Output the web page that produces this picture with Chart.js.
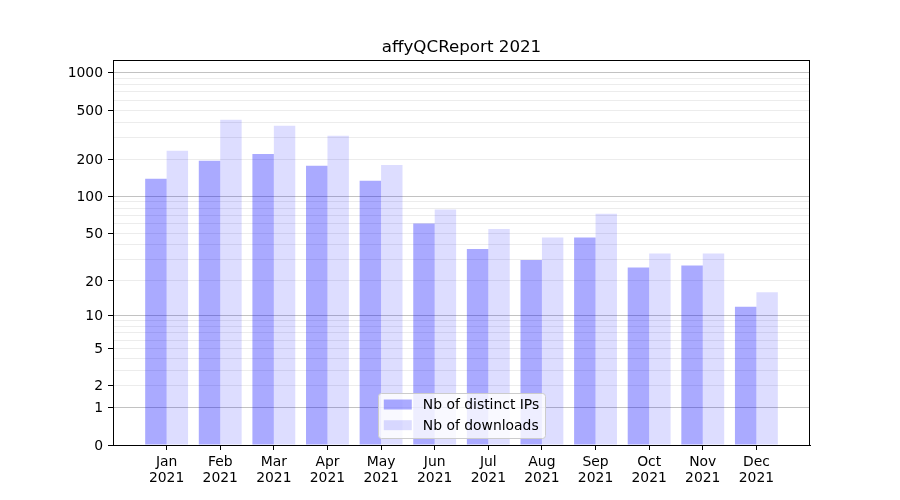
<!DOCTYPE html>
<html>
<head>
<meta charset="utf-8">
<script src="https://cdn.jsdelivr.net/npm/chart.js@4.4.0/dist/chart.umd.min.js"></script>
<style>
  html, body { margin: 0; padding: 0; background: #fff; }
  #wrap { width: 900px; height: 500px; }
</style>
</head>
<body>
<div id="wrap"><canvas id="downloadsChart" width="900" height="500"></canvas></div>
<script>
// chart data
const chartTitle = 'affyQCReport 2021'
const months = ['Jan', 'Feb', 'Mar', 'Apr', 'May', 'Jun', 'Jul', 'Aug', 'Sep', 'Oct', 'Nov', 'Dec']
const year = '2021'
const distinctIPs = [139, 194, 221, 177, 134, 60, 37, 30, 46, 26, 27, 12]
const downloads = [234, 417, 373, 310, 180, 78, 54, 46, 72, 34, 34, 16]
const yTickLabels = [0, 1, 2, 5, 10, 20, 50, 100, 200, 500, 1000]
const yMinorTicks = [3, 4, 6, 7, 8, 9, 30, 40, 60, 70, 80, 90, 300, 400, 600, 700, 800, 900]
const yDarkGrid = [1, 10, 100, 1000]

// y axis is log10(1 + n)
const toLog = (v) => Math.log10(1 + v)
const yAllTicks = [...yTickLabels, ...yMinorTicks].sort((a, b) => a - b)

const FONT = 'DejaVu Sans'

// title centred over the plot area, not the whole canvas
const axesTitlePlugin = {
  id: 'axesTitle',
  afterDraw(chart) {
    const { ctx, chartArea } = chart
    ctx.save()
    ctx.font = '16.7px "' + FONT + '"'
    ctx.fillStyle = '#000'
    ctx.textAlign = 'center'
    ctx.textBaseline = 'alphabetic'
    ctx.fillText(chartTitle, (chartArea.left + chartArea.right) / 2, chartArea.top - 8)
    ctx.restore()
  }
}

const framePlugin = {
  id: 'frame',
  afterDatasetsDraw(chart) {
    const { ctx, chartArea } = chart
    ctx.save()
    ctx.strokeStyle = '#000'
    ctx.lineWidth = 1
    ctx.strokeRect(
      Math.round(chartArea.left) + 0.5,
      Math.round(chartArea.top) + 0.5,
      Math.round(chartArea.right - chartArea.left) - 1,
      Math.round(chartArea.bottom - chartArea.top)
    )
    ctx.restore()
  }
}

// matplotlib style legend, lower center inside the axes
const innerLegendPlugin = {
  id: 'innerLegend',
  afterDraw(chart) {
    const { ctx, chartArea } = chart
    const sets = chart.data.datasets
    ctx.save()
    ctx.font = '13.9px "' + FONT + '"'
    const textW = Math.max(...sets.map((d) => ctx.measureText(d.label).width))
    const boxW = 6 + 28 + 11 + textW + 6
    const boxH = 45
    const left = (chartArea.left + chartArea.right) / 2 - boxW / 2
    const top = chartArea.bottom - 7 - boxH

    ctx.beginPath()
    ctx.roundRect(Math.round(left) + 0.5, Math.round(top) + 0.5, Math.round(boxW), boxH, 3)
    ctx.fillStyle = 'rgba(255,255,255,0.8)'
    ctx.fill()
    ctx.strokeStyle = '#cccccc'
    ctx.lineWidth = 1
    ctx.stroke()

    sets.forEach((d, i) => {
      const cy = top + 11.5 + i * 20.7
      ctx.fillStyle = d.backgroundColor
      ctx.fillRect(left + 6, cy - 5, 28, 10)
      ctx.fillStyle = '#000'
      ctx.textBaseline = 'middle'
      ctx.textAlign = 'left'
      ctx.fillText(d.label, left + 6 + 28 + 11, cy + 1)
    })
    ctx.restore()
  }
}

const ctx = document.getElementById('downloadsChart')

new Chart(ctx, {
  type: 'bar',
  data: {
    datasets: [
      {
        label: 'Nb of distinct IPs',
        data: distinctIPs.map((v, i) => ({ x: i, y: toLog(v) })),
        backgroundColor: 'rgba(0, 0, 255, 0.333)',
        borderWidth: 0,
        categoryPercentage: 0.8,
        barPercentage: 1.0
      },
      {
        label: 'Nb of downloads',
        data: downloads.map((v, i) => ({ x: i, y: toLog(v) })),
        backgroundColor: 'rgba(0, 0, 255, 0.133)',
        borderWidth: 0,
        categoryPercentage: 0.8,
        barPercentage: 1.0
      }
    ]
  },
  options: {
    responsive: false,
    animation: false,
    layout: {
      padding: { top: 60, right: 90, bottom: 0, left: 0 }
    },
    plugins: {
      legend: { display: false },
      tooltip: { enabled: false },
      title: { display: false }
    },
    scales: {
      x: {
        type: 'linear',
        min: -1,
        max: 12,
        offset: false,
        grid: {
          offset: false,
          drawOnChartArea: false,
          drawTicks: true,
          tickLength: 5,
          tickColor: '#000'
        },
        border: { display: true, color: '#000', width: 1 },
        afterBuildTicks: (axis) => {
          axis.ticks = months.map((m, i) => ({ value: i }))
        },
        afterFit: (axis) => {
          axis.height = 55
        },
        ticks: {
          autoSkip: false,
          maxRotation: 0,
          padding: 4,
          color: '#000',
          font: { family: FONT, size: 13.9, lineHeight: 1.15 },
          callback: (value) => [months[value], year]
        }
      },
      y: {
        type: 'linear',
        min: 0,
        max: 3.103,
        grid: {
          drawTicks: true,
          tickLength: 5,
          lineWidth: 1,
          color: (c) => {
            const v = yAllTicks[c.index]
            if (v === 0) return 'rgba(0,0,0,0)'
            return yDarkGrid.includes(v) ? '#c2c2c2' : '#ececec'
          },
          tickColor: (c) => (yTickLabels.includes(yAllTicks[c.index]) ? '#000' : 'rgba(0,0,0,0)')
        },
        border: { display: true, color: '#000', width: 1 },
        afterBuildTicks: (axis) => {
          axis.ticks = yAllTicks.map((v) => ({ value: toLog(v) }))
        },
        afterFit: (axis) => {
          axis.width = 113
        },
        ticks: {
          autoSkip: false,
          padding: 5,
          labelOffset: 1,
          color: '#000',
          font: { family: FONT, size: 13.9 },
          callback: (value, index) => {
            const v = yAllTicks[index]
            return yTickLabels.includes(v) ? String(v) : ''
          }
        }
      }
    }
  },
  plugins: [framePlugin, innerLegendPlugin, axesTitlePlugin]
})
</script>
</body>
</html>
